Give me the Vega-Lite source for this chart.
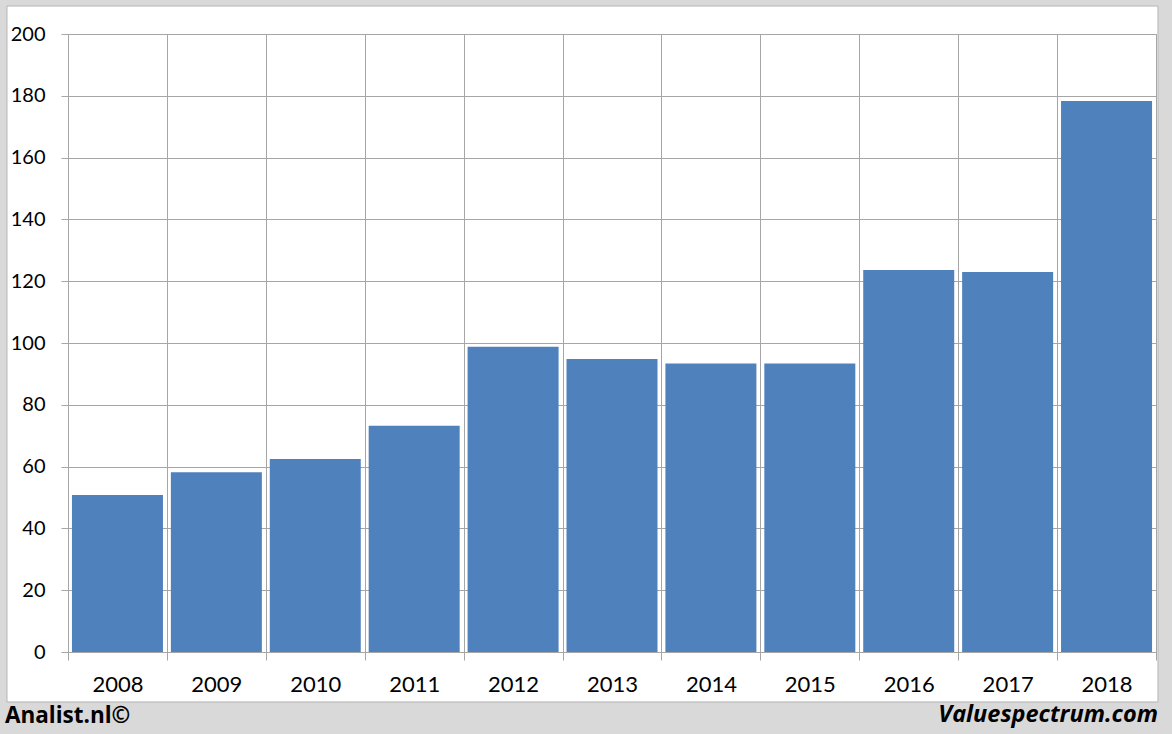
{
  "$schema": "https://vega.github.io/schema/vega-lite/v6.json",
  "autosize": {"type": "none"},
  "width": 1088,
  "height": 618,
  "padding": {"left": 68, "top": 34, "right": 16, "bottom": 82},
  "background": "#ffffff",
  "config": {
    "view": {"stroke": "#a6a6a6", "strokeWidth": 1},
    "font": "Lato"
  },
  "data": {
    "values": [
      {"year": 2008, "value": 50.8},
      {"year": 2009, "value": 58.2},
      {"year": 2010, "value": 62.5},
      {"year": 2011, "value": 73.2},
      {"year": 2012, "value": 98.8},
      {"year": 2013, "value": 94.8},
      {"year": 2014, "value": 93.4},
      {"year": 2015, "value": 93.4},
      {"year": 2016, "value": 123.6},
      {"year": 2017, "value": 123.0},
      {"year": 2018, "value": 178.3}
    ]
  },
  "layer": [
    {
      "mark": {"type": "bar", "width": 91, "color": "#4f81bd", "clip": false},
      "encoding": {
        "x": {
          "field": "year",
          "type": "quantitative",
          "scale": {"domain": [2007.5, 2018.5], "nice": false, "zero": false, "padding": 0},
          "axis": {
            "title": null,
            "values": [2007.5, 2008.5, 2009.5, 2010.5, 2011.5, 2012.5, 2013.5, 2014.5, 2015.5, 2016.5, 2017.5, 2018.5],
            "labelExpr": "datum.value < 2018 ? format(datum.value + 0.5, 'd') : ''",
            "labelOffset": 49.45,
            "labelFontSize": 22,
            "labelColor": "#000000",
            "labelPadding": 14,
            "labelFlush": false,
            "labelOverlap": false,
            "domain": false,
            "grid": true,
            "gridColor": "#a6a6a6",
            "gridOpacity": 1,
            "tickColor": "#a6a6a6",
            "tickSize": 8
          }
        },
        "y": {
          "field": "value",
          "type": "quantitative",
          "scale": {"domain": [0, 200], "nice": false},
          "axis": {
            "title": null,
            "values": [0, 20, 40, 60, 80, 100, 120, 140, 160, 180, 200],
            "labelFontSize": 20,
            "labelColor": "#000000",
            "labelPadding": 16,
            "domain": false,
            "grid": true,
            "gridColor": "#a6a6a6",
            "gridOpacity": 1,
            "tickColor": "#a6a6a6",
            "tickSize": 7
          }
        }
      }
    },
    {
      "data": {"values": [{}]},
      "mark": {"type": "rect", "color": "#d9d9d9", "clip": false},
      "encoding": {
        "x": {"datum": 2005, "type": "quantitative"},
        "x2": {"datum": 2021},
        "y": {"datum": -16.18, "type": "quantitative"},
        "y2": {"datum": -60}
      }
    },
    {
      "data": {"values": [{}]},
      "mark": {"type": "rect", "color": "#d9d9d9", "clip": false},
      "encoding": {
        "x": {"datum": 2005, "type": "quantitative"},
        "x2": {"datum": 2021},
        "y": {"datum": 209.06, "type": "quantitative"},
        "y2": {"datum": 240}
      }
    },
    {
      "data": {"values": [{}]},
      "mark": {"type": "rect", "color": "#d9d9d9", "clip": false},
      "encoding": {
        "x": {"datum": 2005, "type": "quantitative"},
        "x2": {"datum": 2006.883},
        "y": {"datum": -60, "type": "quantitative"},
        "y2": {"datum": 240}
      }
    },
    {
      "data": {"values": [{}]},
      "mark": {"type": "rect", "color": "#d9d9d9", "clip": false},
      "encoding": {
        "x": {"datum": 2018.52, "type": "quantitative"},
        "x2": {"datum": 2021},
        "y": {"datum": -60, "type": "quantitative"},
        "y2": {"datum": 240}
      }
    },
    {
      "data": {"values": [{}]},
      "mark": {"type": "rect", "fill": null, "fillOpacity": 0, "stroke": "#b4b4b4", "strokeWidth": 1, "clip": false},
      "encoding": {
        "x": {"datum": 2006.883, "type": "quantitative"},
        "x2": {"datum": 2018.52},
        "y": {"datum": -16.18, "type": "quantitative"},
        "y2": {"datum": 209.06}
      }
    },
    {
      "data": {"values": [{"t": "Analist.nl©"}]},
      "mark": {"type": "text", "align": "left", "baseline": "alphabetic", "font": "Open Sans", "fontSize": 22.5, "fontWeight": "bold", "color": "#000000", "clip": false},
      "encoding": {
        "text": {"field": "t"},
        "x": {"datum": 2006.862, "type": "quantitative"},
        "y": {"datum": -22.9, "type": "quantitative"}
      }
    },
    {
      "data": {"values": [{"t": "Valuespectrum.com"}]},
      "mark": {"type": "text", "align": "right", "baseline": "alphabetic", "font": "Open Sans", "fontSize": 23.5, "fontWeight": "bold", "fontStyle": "italic", "color": "#000000", "clip": false},
      "encoding": {
        "text": {"field": "t"},
        "x": {"datum": 2018.52, "type": "quantitative"},
        "y": {"datum": -22.6, "type": "quantitative"}
      }
    }
  ]
}
